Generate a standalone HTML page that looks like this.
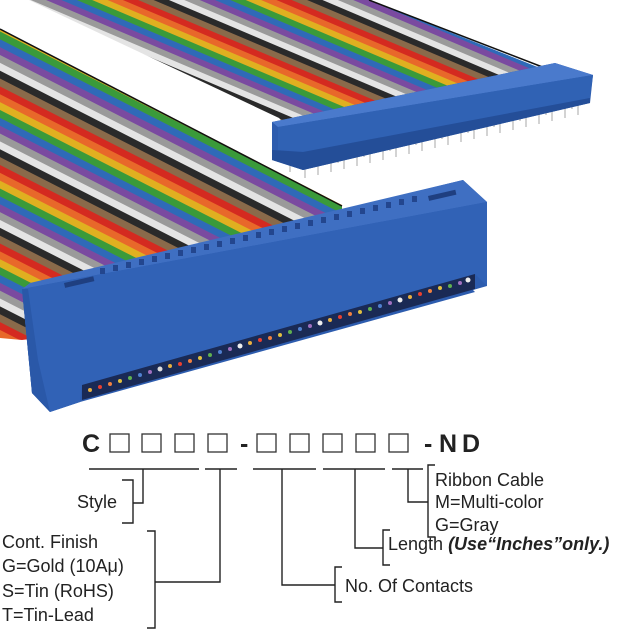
<!DOCTYPE html>
<html><head><meta charset="utf-8"><style>
html,body{margin:0;padding:0;background:#fff}
svg{display:block}
text{font-family:"Liberation Sans",Arial,sans-serif;fill:#222}
</style></head><body>
<svg width="640" height="640" viewBox="0 0 640 640" xmlns="http://www.w3.org/2000/svg">
<defs>
<pattern id="rib" patternUnits="userSpaceOnUse" width="20" height="70" patternTransform="rotate(27)">
<rect y="0" width="20" height="7" fill="#8a6a4a"/><rect y="7" width="20" height="7" fill="#d42a20"/>
<rect y="14" width="20" height="7" fill="#e8682a"/><rect y="21" width="20" height="7" fill="#e0b020"/>
<rect y="28" width="20" height="7" fill="#3a9a3a"/><rect y="35" width="20" height="7" fill="#2f6ab8"/>
<rect y="42" width="20" height="7" fill="#7a4aa0"/><rect y="49" width="20" height="7" fill="#9a9a9a"/>
<rect y="56" width="20" height="7" fill="#e4e4e4"/><rect y="63" width="20" height="7" fill="#2a2a2a"/>
</pattern>
<pattern id="rib2" patternUnits="userSpaceOnUse" width="20" height="60" patternTransform="rotate(23)">
<rect y="0" width="20" height="6" fill="#8a6a4a"/><rect y="6" width="20" height="6" fill="#d42a20"/>
<rect y="12" width="20" height="6" fill="#e8682a"/><rect y="18" width="20" height="6" fill="#e0b020"/>
<rect y="24" width="20" height="6" fill="#3a9a3a"/><rect y="30" width="20" height="6" fill="#2f6ab8"/>
<rect y="36" width="20" height="6" fill="#7a4aa0"/><rect y="42" width="20" height="6" fill="#9a9a9a"/>
<rect y="48" width="20" height="6" fill="#e4e4e4"/><rect y="54" width="20" height="6" fill="#2a2a2a"/>
</pattern>
</defs>
<!-- back ribbon -->
<polygon points="29,0 369,0 545,70 290,130 279,118" fill="url(#rib2)"/>
<line x1="369" y1="0" x2="545" y2="68" stroke="#111" stroke-width="1.5"/>
<!-- back connector -->
<g stroke="#bbb" stroke-width="1.3">
<line x1="305" y1="165" x2="305" y2="178"/><line x1="318" y1="162" x2="318" y2="175"/><line x1="331" y1="159" x2="331" y2="172"/><line x1="344" y1="156" x2="344" y2="169"/><line x1="357" y1="153" x2="357" y2="166"/><line x1="370" y1="150" x2="370" y2="163"/><line x1="383" y1="147" x2="383" y2="160"/><line x1="396" y1="144" x2="396" y2="157"/><line x1="409" y1="141" x2="409" y2="154"/><line x1="422" y1="138" x2="422" y2="151"/><line x1="435" y1="135" x2="435" y2="148"/><line x1="448" y1="132" x2="448" y2="145"/><line x1="461" y1="129" x2="461" y2="142"/><line x1="474" y1="126" x2="474" y2="139"/><line x1="487" y1="123" x2="487" y2="136"/><line x1="500" y1="120" x2="500" y2="133"/><line x1="513" y1="117" x2="513" y2="130"/><line x1="526" y1="114" x2="526" y2="127"/><line x1="539" y1="111" x2="539" y2="124"/><line x1="552" y1="108" x2="552" y2="121"/><line x1="565" y1="105" x2="565" y2="118"/><line x1="578" y1="102" x2="578" y2="115"/>
<line x1="290" y1="160" x2="290" y2="172"/><line x1="312" y1="160" x2="312" y2="168"/><line x1="338" y1="154" x2="338" y2="163"/><line x1="364" y1="148" x2="364" y2="157"/><line x1="390" y1="142" x2="390" y2="151"/><line x1="416" y1="136" x2="416" y2="145"/><line x1="442" y1="130" x2="442" y2="139"/><line x1="468" y1="124" x2="468" y2="133"/><line x1="494" y1="118" x2="494" y2="127"/><line x1="520" y1="112" x2="520" y2="121"/><line x1="546" y1="106" x2="546" y2="115"/><line x1="572" y1="100" x2="572" y2="109"/>
</g>
<polygon points="272,122 555,63 593,75 590,103 303,170 272,160" fill="#2d5cae"/>
<polygon points="272,122 555,63 593,75 278,127" fill="#4a7acc"/>
<polygon points="278,127 593,75 590,98 303,152 278,150" fill="#3062b4"/>
<polygon points="272,150 303,152 590,98 590,103 303,170 272,160" fill="#244e98"/>
<!-- front ribbon -->
<polygon points="0,29 342,205 342,300 22,340 0,338" fill="url(#rib)"/>
<line x1="0" y1="29" x2="342" y2="206" stroke="#111" stroke-width="1.5"/>
<!-- front connector -->
<polygon points="22,289 463,180 487,202 487,286 473,290 475,292 80,402 50,412 32,393" fill="#2d5cae"/>
<polygon points="22,289 30,283 463,180 487,202" fill="#3f6fc2"/>
<polygon points="22,289 487,202 487,286 475,274 82,385 80,402 50,412 32,393" fill="#3162b6"/>
<polygon points="82,385 475,274 475,289 82,400" fill="#1a2a55"/>
<polygon points="28,289 22,289 32,393 50,412 38,360" fill="#2a58a8"/>
<g fill="#1f3f80">
<rect x="64" y="283" width="30" height="5" transform="rotate(-13 64 283)"/>
<rect x="428" y="196" width="28" height="5" transform="rotate(-13 428 196)"/>
</g>
<g fill="#23468e">
<rect x="100" y="268" width="5" height="6"/><rect x="113" y="265" width="5" height="6"/><rect x="126" y="262" width="5" height="6"/><rect x="139" y="259" width="5" height="6"/><rect x="152" y="256" width="5" height="6"/><rect x="165" y="253" width="5" height="6"/><rect x="178" y="250" width="5" height="6"/><rect x="191" y="247" width="5" height="6"/><rect x="204" y="244" width="5" height="6"/><rect x="217" y="241" width="5" height="6"/><rect x="230" y="238" width="5" height="6"/><rect x="243" y="235" width="5" height="6"/><rect x="256" y="232" width="5" height="6"/><rect x="269" y="229" width="5" height="6"/><rect x="282" y="226" width="5" height="6"/><rect x="295" y="223" width="5" height="6"/><rect x="308" y="220" width="5" height="6"/><rect x="321" y="217" width="5" height="6"/><rect x="334" y="214" width="5" height="6"/><rect x="347" y="211" width="5" height="6"/><rect x="360" y="208" width="5" height="6"/><rect x="373" y="205" width="5" height="6"/><rect x="386" y="202" width="5" height="6"/><rect x="399" y="199" width="5" height="6"/><rect x="412" y="196" width="5" height="6"/>
</g>
<g>
<circle cx="90" cy="390" r="2" fill="#e8b040"/><circle cx="100" cy="387" r="2" fill="#e84030"/><circle cx="110" cy="384" r="2" fill="#f08040"/><circle cx="120" cy="381" r="2" fill="#e0c040"/><circle cx="130" cy="378" r="2" fill="#60b050"/><circle cx="140" cy="375" r="2" fill="#5080d0"/><circle cx="150" cy="372" r="2" fill="#a070c0"/><circle cx="160" cy="369" r="2.5" fill="#ddd"/><circle cx="170" cy="366" r="2" fill="#e8b040"/><circle cx="180" cy="364" r="2" fill="#e84030"/><circle cx="190" cy="361" r="2" fill="#f08040"/><circle cx="200" cy="358" r="2" fill="#e0c040"/><circle cx="210" cy="355" r="2" fill="#60b050"/><circle cx="220" cy="352" r="2" fill="#5080d0"/><circle cx="230" cy="349" r="2" fill="#a070c0"/><circle cx="240" cy="346" r="2.5" fill="#eee"/><circle cx="250" cy="343" r="2" fill="#e8b040"/><circle cx="260" cy="340" r="2" fill="#e84030"/><circle cx="270" cy="338" r="2" fill="#f08040"/><circle cx="280" cy="335" r="2" fill="#e0c040"/><circle cx="290" cy="332" r="2" fill="#60b050"/><circle cx="300" cy="329" r="2" fill="#5080d0"/><circle cx="310" cy="326" r="2" fill="#a070c0"/><circle cx="320" cy="323" r="2.5" fill="#eee"/><circle cx="330" cy="320" r="2" fill="#e8b040"/><circle cx="340" cy="317" r="2" fill="#e84030"/><circle cx="350" cy="314" r="2" fill="#f08040"/><circle cx="360" cy="312" r="2" fill="#e0c040"/><circle cx="370" cy="309" r="2" fill="#60b050"/><circle cx="380" cy="306" r="2" fill="#5080d0"/><circle cx="390" cy="303" r="2" fill="#a070c0"/><circle cx="400" cy="300" r="2.5" fill="#eee"/><circle cx="410" cy="297" r="2" fill="#e8b040"/><circle cx="420" cy="294" r="2" fill="#e84030"/><circle cx="430" cy="291" r="2" fill="#f08040"/><circle cx="440" cy="288" r="2" fill="#e0c040"/><circle cx="450" cy="286" r="2" fill="#60b050"/><circle cx="460" cy="283" r="2" fill="#a070c0"/><circle cx="468" cy="280" r="2.5" fill="#eee"/>
</g>
<!-- part number -->
<text x="82" y="452" font-size="25" font-weight="bold">C</text>
<g fill="none" stroke="#333" stroke-width="1.3">
<rect x="110" y="434" width="19" height="18"/><rect x="142" y="434" width="19" height="18"/><rect x="175" y="434" width="19" height="18"/><rect x="208" y="434" width="19" height="18"/>
<rect x="257" y="434" width="19" height="18"/><rect x="290" y="434" width="19" height="18"/><rect x="323" y="434" width="19" height="18"/><rect x="356" y="434" width="19" height="18"/><rect x="389" y="434" width="19" height="18"/>
</g>
<text x="240" y="452" font-size="25" font-weight="bold">-</text>
<text x="424" y="452" font-size="25" font-weight="bold">-</text>
<text x="439" y="452" font-size="25" font-weight="bold">N</text>
<text x="462" y="452" font-size="25" font-weight="bold">D</text>
<g fill="none" stroke="#222" stroke-width="1.4">
<line x1="89" y1="469" x2="199" y2="469"/><line x1="205" y1="469" x2="237" y2="469"/><line x1="253" y1="469" x2="316" y2="469"/><line x1="323" y1="469" x2="385" y2="469"/><line x1="392" y1="469" x2="423" y2="469"/>
<polyline points="143,469 143,503 133,503"/><polyline points="122,480 133,480 133,523 122,523"/>
<polyline points="220,469 220,582 155,582"/><polyline points="147,531 155,531 155,628 147,628"/>
<polyline points="282,469 282,585 335,585"/><polyline points="342,567 335,567 335,602 342,602"/>
<polyline points="355,469 355,548 383,548"/><polyline points="390,530 383,530 383,565 390,565"/>
<polyline points="408,469 408,502 428,502"/><polyline points="435,465 428,465 428,537 435,537"/>
</g>
<g font-size="18">
<text x="77" y="508">Style</text>
<text x="2" y="548">Cont. Finish</text>
<text x="2" y="572">G=Gold (10Aμ)</text>
<text x="2" y="597">S=Tin (RoHS)</text>
<text x="2" y="621">T=Tin-Lead</text>
<text x="345" y="592">No. Of Contacts</text>
<text x="388" y="550">Length <tspan font-weight="bold" font-style="italic">(Use“Inches”only.)</tspan></text>
<text x="435" y="486">Ribbon Cable</text>
<text x="435" y="508">M=Multi-color</text>
<text x="435" y="531">G=Gray</text>
</g>
</svg>
</body></html>
